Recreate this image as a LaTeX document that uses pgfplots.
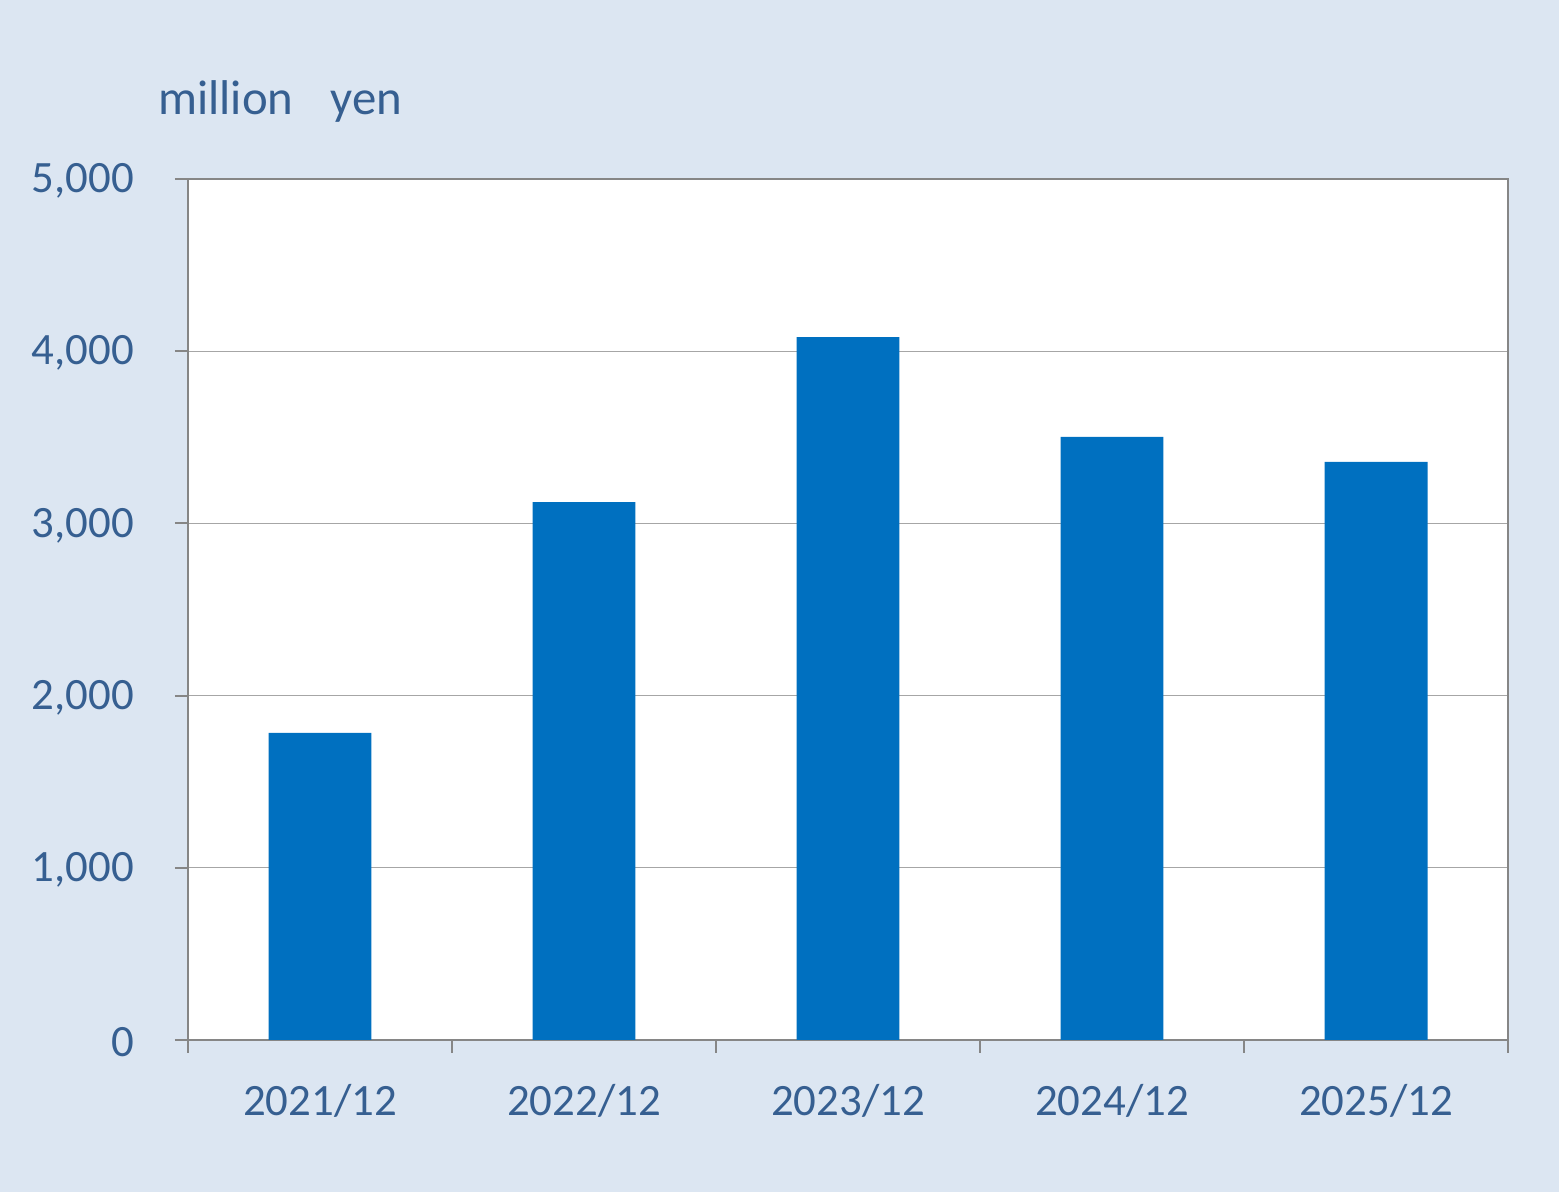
\documentclass[border=0pt]{standalone}
\usepackage{fontspec}
\setmainfont{Carlito}
\usepackage{pgfplots}
\pgfplotsset{compat=1.18}
\definecolor{bg}{HTML}{DCE6F2}
\definecolor{txt}{HTML}{365F91}
\definecolor{bar}{HTML}{0070C0}
\definecolor{spine}{HTML}{868686}
\definecolor{gridc}{HTML}{A6A6A6}
\begin{document}
\begin{tikzpicture}[x=1bp,y=1bp]
\fill[bg] (0,0) rectangle (779.5,596);
\useasboundingbox (0,0) rectangle (779.5,596);
\node[anchor=base west, inner sep=0, text=txt, font=\fontsize{24.5}{29}\selectfont] at (79,538.5) {million\hspace{18.5bp}yen};
\begin{axis}[
  at={(94bp,76bp)}, anchor=south west,
  scale only axis, width=660bp, height=430.5bp,
  xmin=-0.5, xmax=4.5, ymin=0, ymax=5000,
  axis background/.style={fill=white},
  axis line style={spine, line width=1bp},
  tick pos=left, tick align=outside,
  major tick length=6.5bp, minor tick length=6.5bp,
  every tick/.style={spine, line width=1bp},
  xtick={0,1,2,3,4},
  xticklabels={2021/12,2022/12,2023/12,2024/12,2025/12},
  major x tick style={draw=none},
  minor xtick={-0.5,0.5,1.5,2.5,3.5,4.5},
  ytick={0,1000,2000,3000,4000,5000},
  ymajorgrids, grid style={gridc, line width=0.6bp},
  scaled y ticks=false,
  /pgf/number format/assume math mode=true,
  yticklabel={\pgfmathprintnumber[1000 sep={,}]{\tick}},
  ticklabel style={text=txt, font=\fontsize{22.5}{27}\selectfont},
  yticklabel style={anchor=east, xshift=-17bp, yshift=-1bp},
  xticklabel style={anchor=base, yshift=-31.5bp},
  ybar, bar width=0.39, bar shift=0,
]
\addplot[fill=bar, draw=none] coordinates {(0,1783) (1,3124) (2,4082) (3,3502) (4,3357)};
\end{axis}
\end{tikzpicture}
\end{document}
